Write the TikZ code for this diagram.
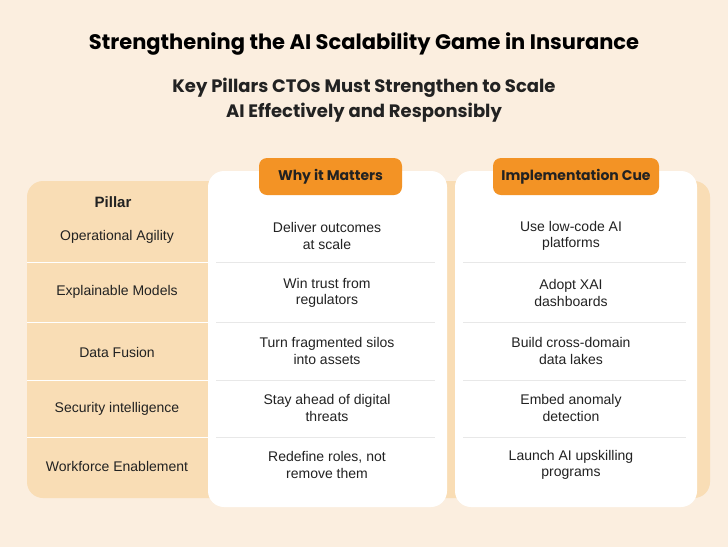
\documentclass[tikz,border=0pt]{standalone}
\usepackage{fontspec}
\setmainfont{Liberation Sans}
\newfontfamily\popp{Poppins}
\definecolor{bg}{HTML}{FBEEDF}
\definecolor{tan}{HTML}{F9DDB5}
\definecolor{org}{HTML}{F39325}
\definecolor{sep}{HTML}{E8E8E8}
\definecolor{txt}{HTML}{222222}
\begin{document}
\begin{tikzpicture}[x=1pt,y=-1pt,
  cell/.style={align=center,font=\fontsize{14}{16.5}\selectfont,text=txt},
  hdr/.style={fill=org,rounded corners=8pt,font=\popp\fontsize{14}{16}\selectfont\bfseries,text=txt,minimum height=37pt,inner sep=0pt}]
\fill[bg] (0,0) rectangle (728,547);
\useasboundingbox (0,0) rectangle (728,547);
\node[font=\popp\fontsize{21}{24}\selectfont\bfseries,text=black] (title) at (364,44) {Strengthening the AI Scalability Game in Insurance};
\node[font=\popp\fontsize{18}{25}\selectfont\bfseries,align=center,text=txt] (sub) at (364,100) {Key Pillars CTOs Must Strengthen to Scale\\AI Effectively and Responsibly};
\fill[tan,rounded corners=16pt] (27,181) rectangle (710,498);
\fill[white,rounded corners=16pt] (208,171) rectangle (447,507);
\fill[white,rounded corners=16pt] (455,171) rectangle (697,507);
\foreach \y in {262,322,380,437}{
  \draw[white,line width=1pt] (27,\y) -- (208,\y);
  \draw[sep,line width=0.8pt] (216,\y) -- (435,\y);
  \draw[sep,line width=0.8pt] (463,\y) -- (686,\y);
}
\node[hdr,minimum width=143pt] (h1) at (330.5,176.5) {Why it Matters};
\node[hdr,minimum width=166pt] (h2) at (576,176.5) {Implementation Cue};
\node[cell,font=\fontsize{15}{18}\selectfont\bfseries] (p0) at (113,202) {Pillar};
\node[cell] (p1) at (117,237) {Operational Agility};
\node[cell] (p2) at (117,292) {Explainable Models};
\node[cell] (p3) at (117,352) {Data Fusion};
\node[cell] (p4) at (117,409) {Security intelligence};
\node[cell] (p5) at (117,466) {Workforce Enablement};
\node[cell] (w1) at (327,236) {Deliver outcomes\\at scale};
\node[cell] (w2) at (327,293) {Win trust from\\regulators};
\node[cell] (w3) at (327,351) {Turn fragmented silos\\into assets};
\node[cell] (w4) at (327,408) {Stay ahead of digital\\threats};
\node[cell] (w5) at (327,465) {Redefine roles, not\\remove them};
\node[cell] (c1) at (571,236) {Use low-code AI\\platforms};
\node[cell] (c2) at (571,293) {Adopt XAI\\dashboards};
\node[cell] (c3) at (571,351) {Build cross-domain\\data lakes};
\node[cell] (c4) at (571,408) {Embed anomaly\\detection};
\node[cell] (c5) at (571,465) {Launch AI upskilling\\programs};
\end{tikzpicture}
\end{document}
